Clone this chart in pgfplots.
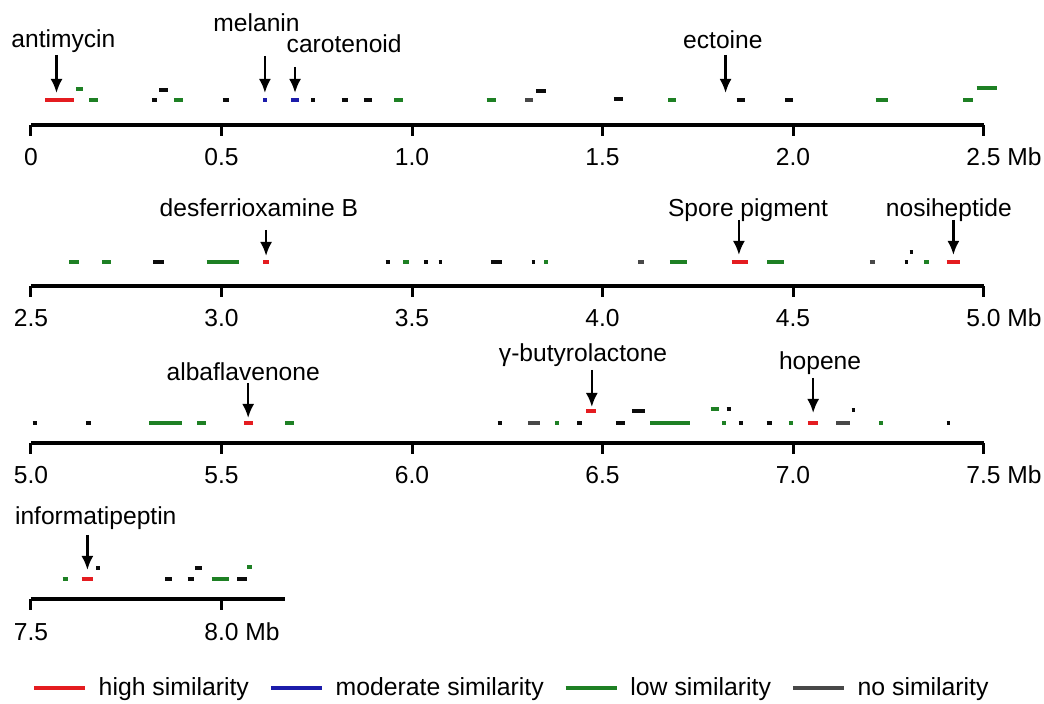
\documentclass[border=0pt]{standalone}
\usepackage{pgfplots}
\pgfplotsset{compat=1.18}
\usepackage{fontspec}
\setmainfont{Liberation Sans}
\usetikzlibrary{arrows.meta}
\definecolor{cred}{RGB}{228,28,32}
\definecolor{cblue}{RGB}{28,28,170}
\definecolor{cgreen}{RGB}{30,128,36}
\definecolor{cblack}{RGB}{12,12,12}
\definecolor{cgray}{RGB}{72,72,72}
\newcommand{\lf}{\fontsize{12.3}{14}\selectfont}
\tikzset{
  lab/.style={font=\lf, anchor=base},
  arr/.style={line width=1.25pt, black, -{Latex[length=7pt,width=6pt]}},
}
\pgfplotsset{
  track/.style={
    x=190.5pt, y=0.5pt, ymin=0, ymax=110,
    axis x line*=bottom, axis y line=none, ytick=\empty,
    x axis line style={line width=1.8pt, -},
    xtick style={line width=1.5pt, black},
    tick align=outside, major tick length=5.5pt,
    clip=false, anchor=south west,
    xticklabel style={font=\lf, anchor=base, inner sep=0pt, yshift=-15pt},
  },
  seg/.style={quiver={u=\thisrow{u}, v=0}, -, line width=2pt, no marks},
}
\begin{document}
\begin{tikzpicture}
\useasboundingbox (0,0) rectangle (522pt,-352pt);
% ---------- track 1
\begin{axis}[track, at={(15.5pt,-62.5pt)}, xmin=0, xmax=2.5,
  xtick={0,0.5,1.0,1.5,2.0,2.5}, xticklabels={0,0.5,1.0,1.5,2.0,{2.5\rlap{ Mb}}}]
\addplot[seg, draw=cred] table {
x y u
0.038 25 0.075
};
\addplot[seg, draw=cblue] table {
x y u
0.609 25 0.011
0.682 25 0.022
};
\addplot[seg, draw=cgreen] table {
x y u
0.118 36 0.019
0.153 25 0.024
0.375 25 0.023
0.954 25 0.023
1.196 25 0.024
1.673 25 0.020
2.217 25 0.033
2.447 25 0.025
2.482 37 0.053
};
\addplot[seg, draw=cblack] table {
x y u
0.317 25 0.013
0.337 35 0.023
0.503 25 0.016
0.735 25 0.010
0.815 25 0.018
0.874 25 0.022
1.325 34 0.026
1.530 26 0.023
1.852 25 0.022
1.979 25 0.022
};
\addplot[seg, draw=cgray] table {
x y u
1.297 25 0.020
};
\node[lab] at (axis cs:0.085,77) {antimycin};
\node[lab] at (axis cs:0.592,93.5) {melanin};
\node[lab] at (axis cs:0.822,72) {carotenoid};
\node[lab] at (axis cs:1.816,76) {ectoine};
\draw[arr] (axis cs:0.067,70) -- (axis cs:0.067,32);
\draw[arr] (axis cs:0.614,69) -- (axis cs:0.614,32);
\draw[arr] (axis cs:0.693,58) -- (axis cs:0.693,32);
\draw[arr] (axis cs:1.823,70) -- (axis cs:1.823,32);
\end{axis}
% ---------- track 2
\begin{axis}[track, at={(15.5pt,-143pt)}, xmin=2.5, xmax=5.0,
  xtick={2.5,3.0,3.5,4.0,4.5,5.0}, xticklabels={2.5,3.0,3.5,4.0,4.5,{5.0\rlap{ Mb}}}]
\addplot[seg, draw=cred] table {
x y u
3.110 24 0.015
4.339 24 0.044
4.903 24 0.034
};
\addplot[seg, draw=cgreen] table {
x y u
2.601 24 0.024
2.686 24 0.023
2.961 24 0.086
3.477 24 0.015
3.847 24 0.010
4.177 24 0.046
4.433 24 0.043
4.845 24 0.011
};
\addplot[seg, draw=cblack] table {
x y u
2.821 24 0.028
3.431 24 0.011
3.531 24 0.010
3.570 24 0.010
3.707 24 0.028
3.814 24 0.010
4.793 24 0.010
4.806 34 0.010
};
\addplot[seg, draw=cgray] table {
x y u
4.094 24 0.015
4.702 24 0.013
};
\node[lab] at (axis cs:3.098,69.5) {desferrioxamine B};
\node[lab] at (axis cs:4.382,69.5) {Spore pigment};
\node[lab] at (axis cs:4.909,69.5) {nosiheptide};
\draw[arr] (axis cs:3.117,56) -- (axis cs:3.117,30);
\draw[arr] (axis cs:4.358,66) -- (axis cs:4.358,31);
\draw[arr] (axis cs:4.921,66) -- (axis cs:4.921,31);
\end{axis}
% ---------- track 3
\begin{axis}[track, at={(15.5pt,-221.5pt)}, xmin=5.0, xmax=7.5,
  xtick={5.0,5.5,6.0,6.5,7.0,7.5}, xticklabels={5.0,5.5,6.0,6.5,7.0,{7.5\rlap{ Mb}}}]
\addplot[seg, draw=cred] table {
x y u
5.559 20 0.024
6.457 32 0.026
7.039 20 0.027
};
\addplot[seg, draw=cgreen] table {
x y u
5.311 20 0.085
5.437 20 0.022
5.667 20 0.023
6.375 20 0.011
6.625 20 0.105
6.784 34 0.022
6.814 20 0.010
6.989 20 0.010
7.227 20 0.010
};
\addplot[seg, draw=cblack] table {
x y u
5.004 20 0.011
5.144 20 0.013
6.225 20 0.010
6.434 20 0.011
6.535 20 0.024
6.577 32 0.035
6.826 34 0.010
6.858 20 0.012
6.931 20 0.013
7.154 33 0.010
7.403 20 0.010
};
\addplot[seg, draw=cgray] table {
x y u
6.304 20 0.032
7.113 20 0.037
};
\node[lab] at (axis cs:5.557,62) {albaflavenone};
\node[lab] at (axis cs:6.449,81.5) {γ-butyrolactone};
\node[lab] at (axis cs:7.071,73.5) {hopene};
\draw[arr] (axis cs:5.570,60) -- (axis cs:5.570,25);
\draw[arr] (axis cs:6.472,73) -- (axis cs:6.472,36);
\draw[arr] (axis cs:7.053,65) -- (axis cs:7.053,30);
\end{axis}
% ---------- track 4
\begin{axis}[track, at={(15.5pt,-299.5pt)}, xmin=7.5, xmax=8.167,
  xtick={7.5,8.0}, xticklabels={7.5,{8.0\rlap{ Mb}}},
  legend columns=4,
  legend style={draw=none, fill=none, inner sep=0pt, outer sep=0pt,
    at={(axis description cs:0.004,-0.809)}, anchor=west, font=\fontsize{12.4}{14}\selectfont,
    nodes={inner sep=0pt},
    /tikz/every odd column/.append style={column sep=5.85pt},
    /tikz/every even column/.append style={column sep=10pt}},
  legend image code/.code={\draw[line width=2pt] (0pt,0pt) -- (25.5pt,0pt);}]
\addplot[seg, draw=cred, forget plot] table {
x y u
7.633 20 0.031
};
\addplot[seg, draw=cgreen, forget plot] table {
x y u
7.583 20 0.015
7.974 20 0.046
8.068 32 0.011
};
\addplot[seg, draw=cblack, forget plot] table {
x y u
7.671 31 0.009
7.853 20 0.016
7.911 20 0.018
7.930 31 0.020
8.041 20 0.025
};
\node[lab] at (axis cs:7.670,74) {informatipeptin};
\draw[arr] (axis cs:7.648,64) -- (axis cs:7.648,29);
\addlegendimage{cred}
\addlegendentry{high similarity}
\addlegendimage{cblue}
\addlegendentry{moderate similarity}
\addlegendimage{cgreen}
\addlegendentry{low similarity}
\addlegendimage{cgray}
\addlegendentry{no similarity}
\end{axis}
\end{tikzpicture}
\end{document}
